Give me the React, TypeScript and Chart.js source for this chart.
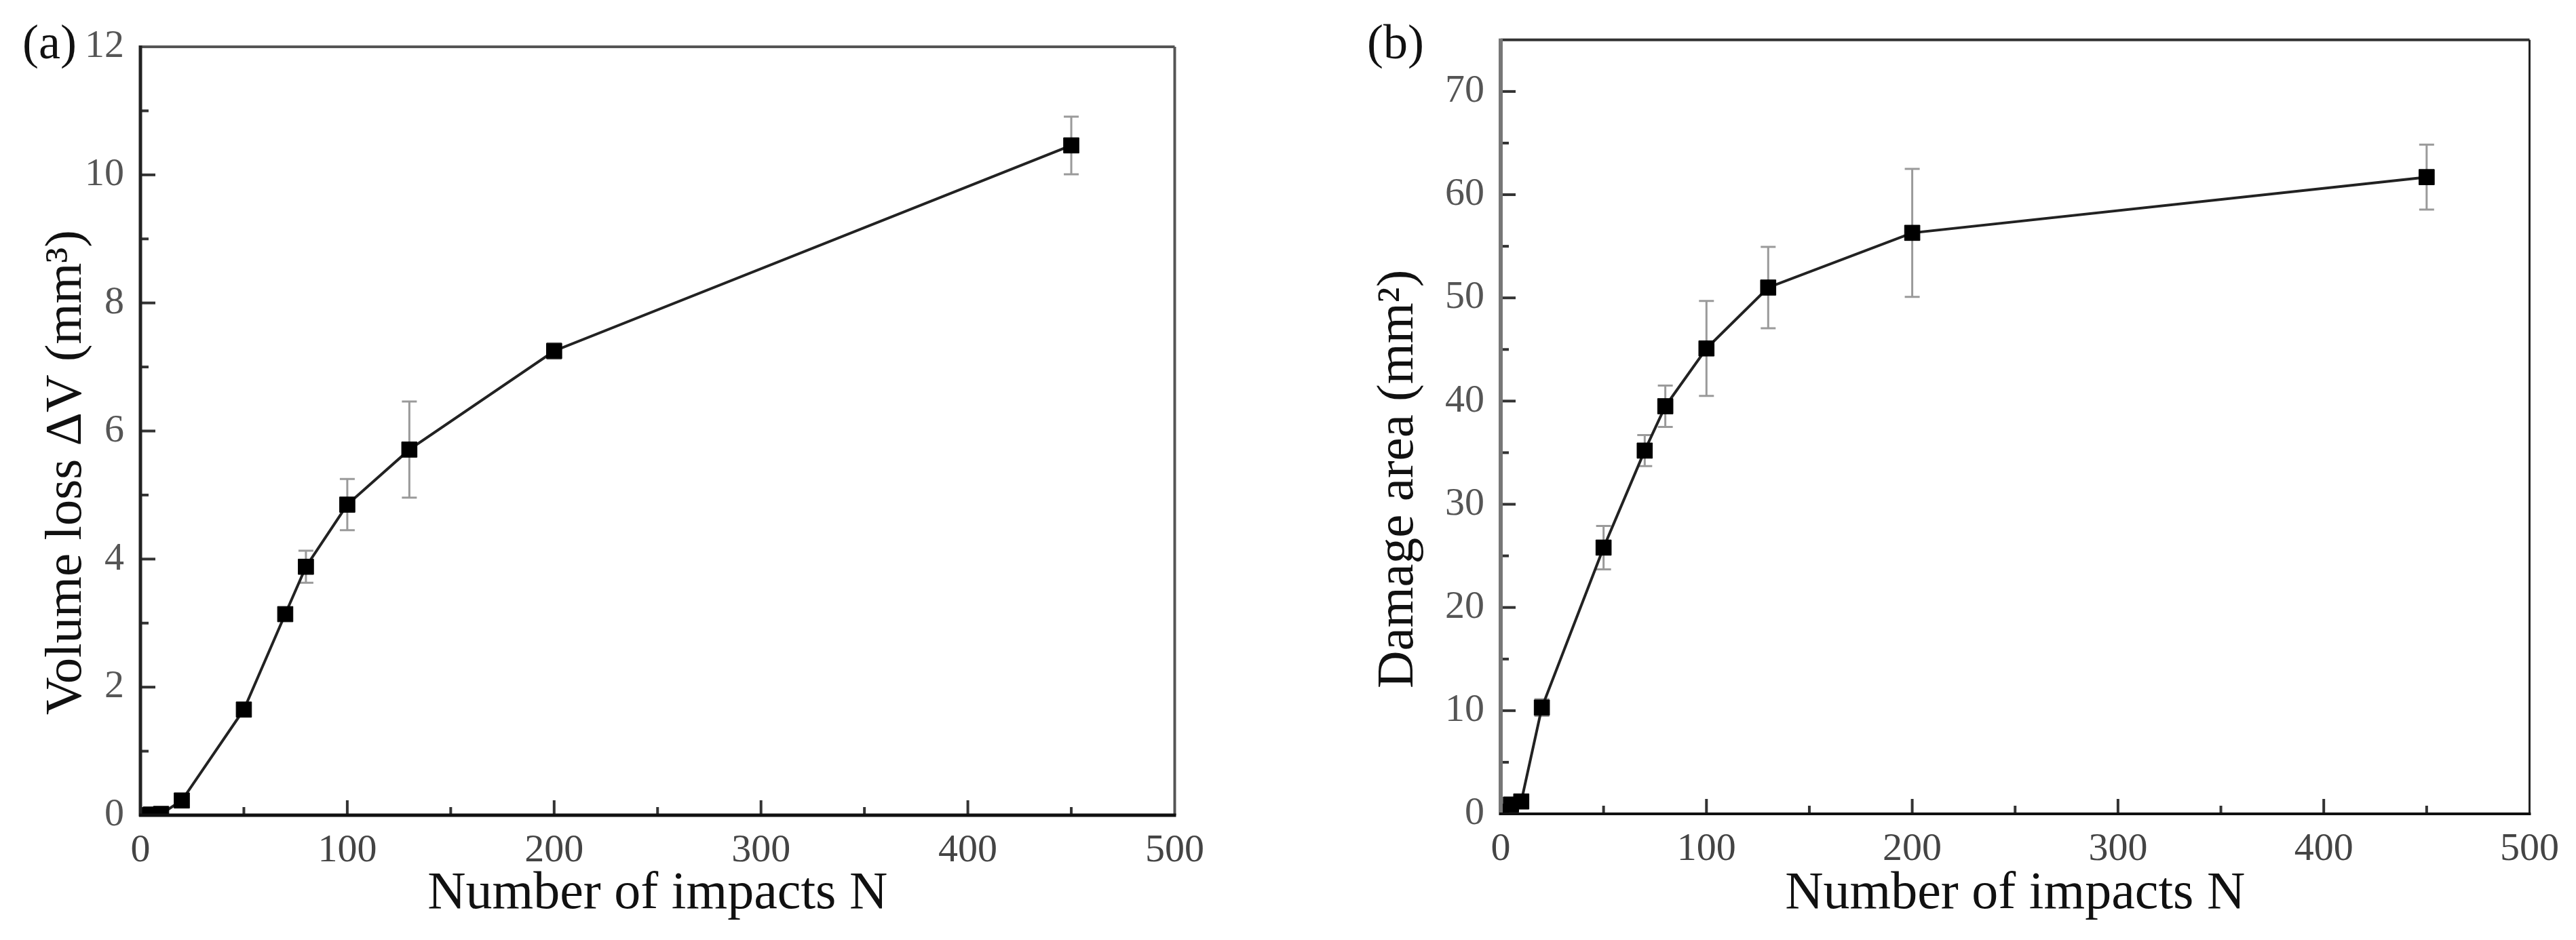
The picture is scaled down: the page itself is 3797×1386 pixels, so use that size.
import { useEffect, useRef } from "react"
import { Chart, registerables } from "chart.js"

Chart.register(...registerables)

const FONT = "'Liberation Serif', 'Times New Roman', serif"

// shared x values (number of impacts)
const impacts = [0, 5, 10, 20, 50, 70, 80, 100, 130, 200, 450]

// (a) volume loss, mm³
const volumeLoss = [0, 0.01, 0.02, 0.23, 1.65, 3.14, 3.88, 4.85, 5.71, 7.25, 10.46]
const volumeLossErr = [0, 0, 0, 0.03, 0.06, 0.06, 0.25, 0.4, 0.75, 0.12, 0.45]

// (b) damage area, mm²
const damageArea = [0.2, 0.9, 1.2, 10.3, 25.8, 35.2, 39.5, 45.1, 51.0, 56.3, 61.7]
const damageAreaErr = [0, 0.2, 0.3, 0.8, 2.1, 1.5, 2.0, 4.6, 3.95, 6.2, 3.15]

// tick values
const xTicks = [0, 100, 200, 300, 400, 500]
const xMinor = [50, 150, 250, 350, 450]
const volumeTicks = [0, 2, 4, 6, 8, 10, 12]
const volumeMinor = [1, 3, 5, 7, 9, 11]
const areaTicks = [0, 10, 20, 30, 40, 50, 60, 70]
const areaMinor = [5, 15, 25, 35, 45, 55, 65]

type Side = [string, number]

interface PanelProps {
  label: string
  yTitle: string
  values: number[]
  errors: number[]
  yMax: number
  yTicks: number[]
  yMinor: number[]
  left: number
  width: number
  padTop: number
  padRight: number
  axisWidth: number
  axisHeight: number
  yTitleX: number
  yTitleShift: number
  labelX: number
  frame: { left: Side; bottom: Side; top: Side; right: Side }
}

function Panel(p: PanelProps) {
  const canvasRef = useRef<HTMLCanvasElement>(null)

  useEffect(() => {
    if (!canvasRef.current) return

    const decorations = {
      id: "decorations",
      beforeDatasetsDraw(chart: any) {
        const { ctx, scales: { x, y } } = chart
        ctx.save()
        ctx.strokeStyle = "#9a9a9a"
        ctx.lineWidth = 3
        p.values.forEach((v, i) => {
          const e = p.errors[i]
          if (!e) return
          const px = x.getPixelForValue(impacts[i])
          const top = y.getPixelForValue(v + e)
          const bot = y.getPixelForValue(v - e)
          ctx.beginPath()
          ctx.moveTo(px, top)
          ctx.lineTo(px, bot)
          ctx.moveTo(px - 11, top)
          ctx.lineTo(px + 11, top)
          ctx.moveTo(px - 11, bot)
          ctx.lineTo(px + 11, bot)
          ctx.stroke()
        })
        ctx.restore()
      },
      afterDraw(chart: any) {
        const { ctx, chartArea: a, scales: { x, y } } = chart
        ctx.save()

        // inward tick marks
        ctx.strokeStyle = "#333"
        ctx.lineWidth = 4
        const xMark = (v: number, len: number) => {
          if (v <= x.min || v >= x.max) return
          const px = x.getPixelForValue(v)
          ctx.beginPath()
          ctx.moveTo(px, a.bottom)
          ctx.lineTo(px, a.bottom - len)
          ctx.stroke()
        }
        const yMark = (v: number, len: number) => {
          if (v <= y.min || v >= y.max) return
          const py = y.getPixelForValue(v)
          ctx.beginPath()
          ctx.moveTo(a.left, py)
          ctx.lineTo(a.left + len, py)
          ctx.stroke()
        }
        xTicks.forEach((v) => xMark(v, 22))
        xMinor.forEach((v) => xMark(v, 12))
        p.yTicks.forEach((v) => yMark(v, 22))
        p.yMinor.forEach((v) => yMark(v, 12))

        // frame
        const line = (side: Side, x1: number, y1: number, x2: number, y2: number) => {
          ctx.strokeStyle = side[0]
          ctx.lineWidth = side[1]
          ctx.beginPath()
          ctx.moveTo(x1, y1)
          ctx.lineTo(x2, y2)
          ctx.stroke()
        }
        line(p.frame.top, a.left, a.top, a.right, a.top)
        line(p.frame.right, a.right, a.top, a.right, a.bottom)
        line(p.frame.left, a.left, a.top - 2, a.left, a.bottom + 2)
        line(p.frame.bottom, a.left - 2, a.bottom, a.right + 2, a.bottom)

        // y axis title
        ctx.fillStyle = "#111"
        ctx.font = `77px ${FONT}`
        ctx.textAlign = "center"
        ctx.textBaseline = "middle"
        ctx.save()
        ctx.translate(p.yTitleX, (a.top + a.bottom) / 2 + p.yTitleShift)
        ctx.rotate(-Math.PI / 2)
        ctx.fillText(p.yTitle, 0, 0)
        ctx.restore()

        // panel label
        ctx.font = `72px ${FONT}`
        ctx.textAlign = "left"
        ctx.fillText(p.label, p.labelX, 67)
        ctx.restore()
      },
    }

    const chart = new Chart(canvasRef.current, {
      type: "line",
      data: {
        datasets: [
          {
            data: impacts.map((n, i) => ({ x: n, y: p.values[i] })),
            borderColor: "#222",
            borderWidth: 4,
            pointStyle: "rect",
            pointRadius: 16,
            pointBackgroundColor: "#000",
            pointBorderColor: "#000",
            pointBorderWidth: 1,
            tension: 0,
          },
        ],
      },
      options: {
        animation: false,
        responsive: false,
        layout: { padding: { top: p.padTop, right: p.padRight, left: 0, bottom: 0 } },
        plugins: { legend: { display: false }, tooltip: { enabled: false } },
        scales: {
          x: {
            type: "linear",
            min: 0,
            max: 500,
            grid: { display: false, drawTicks: false },
            border: { display: false },
            afterBuildTicks: (s: any) => {
              s.ticks = xTicks.map((value) => ({ value }))
            },
            afterFit: (s: any) => {
              s.height = p.axisHeight
            },
            ticks: {
              padding: 18,
              color: "#444",
              autoSkip: false,
              maxRotation: 0,
              font: { size: 58, family: FONT },
            },
            title: {
              display: true,
              text: "Number of impacts N",
              color: "#111",
              font: { size: 78, family: FONT },
              padding: { top: 0, bottom: 21 },
            },
          },
          y: {
            type: "linear",
            min: 0,
            max: p.yMax,
            grid: { display: false, drawTicks: false },
            border: { display: false },
            afterBuildTicks: (s: any) => {
              s.ticks = p.yTicks.map((value) => ({ value }))
            },
            afterFit: (s: any) => {
              s.width = p.axisWidth
            },
            ticks: {
              padding: 24,
              color: "#555",
              autoSkip: false,
              font: { size: 58, family: FONT },
            },
          },
        },
      },
      plugins: [decorations],
    })

    return () => {
      chart.destroy()
    }
  }, [])

  return (
    <canvas
      ref={canvasRef}
      width={p.width}
      height={1386}
      style={{ position: "absolute", left: p.left, top: 0, width: p.width, height: 1386 }}
    />
  )
}

export default function App() {
  return (
    <div style={{ position: "absolute", left: 0, top: 0, width: 3797, height: 1386, background: "#fff" }}>
      <Panel
        label="(a)"
        yTitle="Volume loss ΔV (mm³)"
        values={volumeLoss}
        errors={volumeLossErr}
        yMax={12}
        yTicks={volumeTicks}
        yMinor={volumeMinor}
        left={0}
        width={1793}
        padTop={69}
        padRight={60}
        axisWidth={207}
        axisHeight={184}
        yTitleX={99}
        yTitleShift={61}
        labelX={33}
        frame={{ left: ["#222", 5], bottom: ["#111", 5], top: ["#555", 4], right: ["#555", 4] }}
      />
      <Panel
        label="(b)"
        yTitle="Damage area (mm²)"
        values={damageArea}
        errors={damageAreaErr}
        yMax={75}
        yTicks={areaTicks}
        yMinor={areaMinor}
        left={1900}
        width={1890}
        padTop={40}
        padRight={50}
        axisWidth={312}
        axisHeight={186}
        yTitleX={162}
        yTitleShift={77}
        labelX={115}
        frame={{ left: ["#777", 6], bottom: ["#111", 4], top: ["#333", 4], right: ["#222", 3] }}
      />
    </div>
  )
}
